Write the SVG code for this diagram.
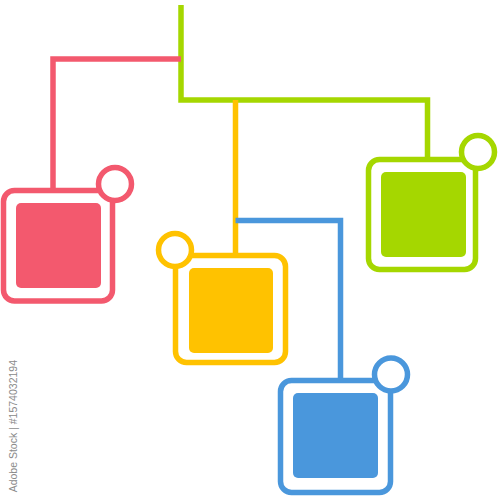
<svg xmlns="http://www.w3.org/2000/svg" width="500" height="500" viewBox="0 0 500 500">
<style>
.line{fill:none;stroke-width:5.5;stroke-linejoin:miter;stroke-linecap:butt}
.frame{fill:#fff;stroke-width:5.5}
.dot{fill:#fff;stroke-width:5.5}
.pink{stroke:#F3596E}
.yellow{stroke:#FFC200}
.green{stroke:#A5D700}
.blue{stroke:#4A97DC}
.wm{font-family:"Liberation Sans",Arial,sans-serif;font-size:10.5px;fill:#8a8a8a}
</style>
<rect width="500" height="500" fill="#fff"/>
<g id="connectors">
<path class="line green" d="M181,5 V100 H427.5 V159.5"/>
<path class="line pink" d="M181,59 H53 V190.5"/>
<path class="line yellow" d="M235.5,100 V255.5"/>
<path class="line blue" d="M235.5,220.5 H340.5 V380.5"/>
</g>
<g id="node-pink">
<rect class="frame pink" x="3.5" y="190.5" width="109" height="110.5" rx="11"/>
<rect x="16" y="203" width="85" height="85" rx="5" fill="#F3596E"/>
<circle class="dot pink" cx="115" cy="184" r="16.5"/>
</g>
<g id="node-yellow">
<rect class="frame yellow" x="175.5" y="255.5" width="110" height="107" rx="11"/>
<rect x="189" y="268" width="84" height="85" rx="5" fill="#FFC200"/>
<circle class="dot yellow" cx="175" cy="250" r="16.5"/>
</g>
<g id="node-green">
<rect class="frame green" x="368.5" y="159.5" width="107" height="110" rx="11"/>
<rect x="381" y="172" width="85" height="85" rx="5" fill="#A5D700"/>
<circle class="dot green" cx="478" cy="152" r="16.5"/>
</g>
<g id="node-blue">
<rect class="frame blue" x="280.5" y="380.5" width="110" height="112" rx="11"/>
<rect x="293" y="393" width="85" height="85" rx="5" fill="#4A97DC"/>
<circle class="dot blue" cx="391" cy="374.5" r="16.5"/>
</g>
<text class="wm" transform="translate(17,360) rotate(-90)" text-anchor="end">Adobe Stock | #1574032194</text>
</svg>
